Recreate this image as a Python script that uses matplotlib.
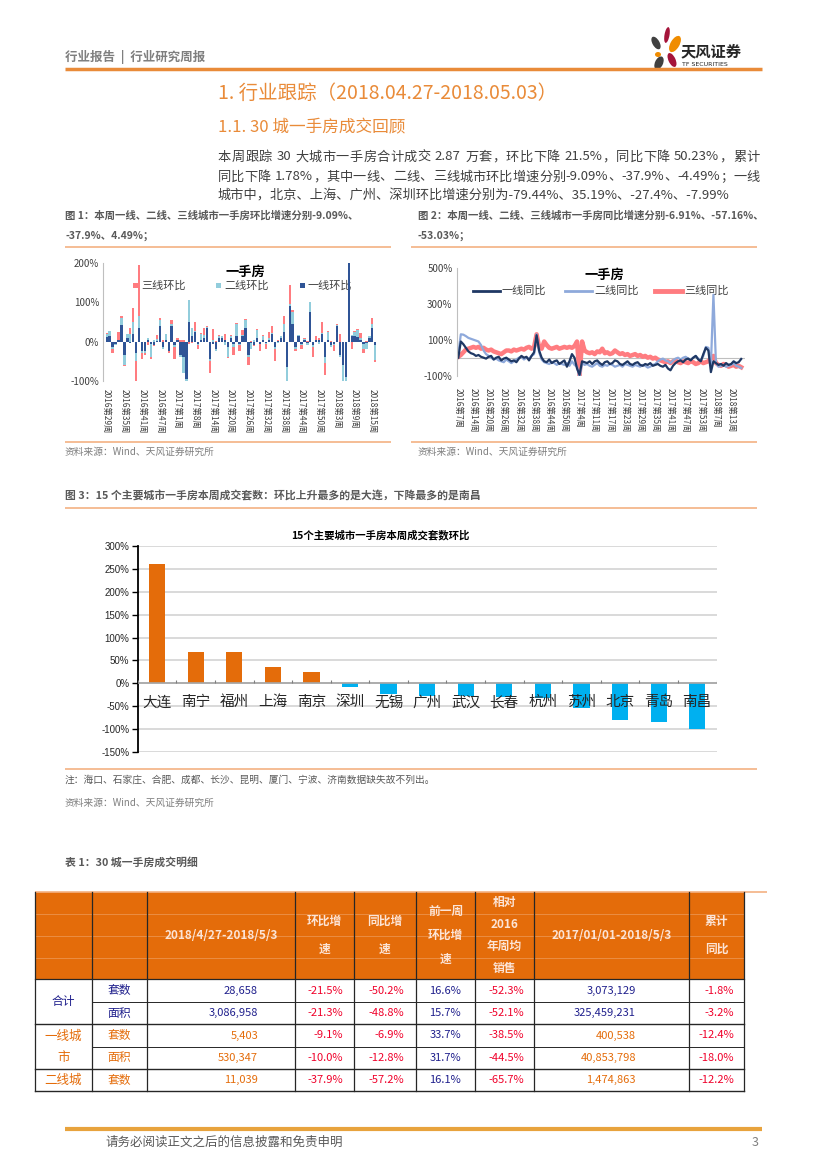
import re
import matplotlib
matplotlib.use('Agg')
import matplotlib.pyplot as plt
from matplotlib.patches import Rectangle, Ellipse
import numpy as np

plt.rcParams['font.family'] = ['Noto Sans CJK SC', 'DejaVu Sans']
plt.rcParams['axes.unicode_minus'] = False

# ---------------- data ----------------
# Chart 1: weekly MoM growth (%), stacked
wk1_labels = ['2016第29周', '2016第35周', '2016第41周', '2016第47周', '2017第1周', '2017第8周',
              '2017第14周', '2017第20周', '2017第26周', '2017第32周', '2017第38周', '2017第44周',
              '2017第50周', '2018第3周', '2018第9周', '2018第15周']
tier1_mom = [12, 15, -15, -5, 3, 42, -35, 10, -3, 20,
             -30, 35, -25, -25, 3, -5, -10, 2, 40, -15,
             5, -25, 40, -10, 3, -35, -40, -95, 50, 15,
             25, -5, 3, 10, 35, -45, -5, -20, 10, 10,
             3, -15, 10, -5, 15, -5, 15, 35, -35, -3,
             -8, 10, -5, 3, -3, 5, 20, -15, 2, 10,
             25, -65, 90, 45, -15, 15, -5, 5, -3, 75,
             -10, 3, 3, 20, -40, 3, -10, -5, 40, -35,
             -60, -90, 200, 15, 15, 12, 3, -5, -3, 10,
             35, -9.09]
tier2_mom = [8, 13, -5, -3, 2, 18, -25, 10, 20, 30,
             -20, 30, -5, -3, 7, -35, 3, 5, 15, -3,
             15, 0, 5, -5, 2, -5, -40, -10, 55, 20,
             3, -3, 17, 8, 2, -5, 3, -5, 5, 3,
             -10, -25, 3, -10, 30, -3, 3, 20, -5, -15,
             3, 20, -2, 12, -2, 3, 3, -5, -3, 3,
             20, -35, 5, 30, -3, 3, -3, 2, -7, 25,
             -5, 2, -5, 3, -15, 22, -3, -3, 2, -5,
             -40, -12, 0, 3, 10, 18, 7, -15, -17, 3,
             10, -37.9]
tier3_mom = [3, 0, -10, -2, 20, 5, -3, 0, 15, 35,
             -55, 130, -15, -7, -10, -5, -2, 10, 5, 5,
             0, -5, 10, -30, 5, 3, 5, 0, -5, -3,
             22, -12, 2, 17, 3, -30, 30, 2, 3, -2,
             17, -3, 5, -20, 2, -17, 12, 3, -20, 2,
             -4, 3, -18, 2, -15, 17, 17, -30, 3, 2,
             20, -3, 50, 5, -5, -2, -10, 3, 2, 2,
             -25, 10, 7, 27, -30, 2, 2, -17, 3, 20,
             -3, 0, 0, -20, 2, 2, 12, -10, 2, 2,
             15, -4.49]

# Chart 2: weekly YoY growth (%)
wk2_labels = ['2016第7周', '2016第14周', '2016第20周', '2016第26周', '2016第32周', '2016第38周',
              '2016第44周', '2016第50周', '2017第4周', '2017第11周', '2017第17周', '2017第23周',
              '2017第29周', '2017第35周', '2017第41周', '2017第47周', '2017第53周', '2018第7周',
              '2018第13周']
tier1_yoy = [0, 90, 75, 55, 35, 25, 20, 10, 15, 5,
             0, -5, 5, 10, -10, 0, 5, -15, -5, 0,
             -10, -20, -15, -25, -5, 10, 0, 5, -15, 10,
             30, 125, 40, 0, -20, -25, -10, -30, -20, -15,
             -35, -25, -15, -50, -20, 20, 0, -60, -95, -20,
             -25, -30, -20, -35, -20, -15, -30, -40, -25, -20,
             -35, -30, -15, -20, -35, -40, -30, -20, -35, -40,
             -30, -25, -40, -45, -35, -40, -30, -45, -40, -35,
             -45, -50, -40, -60, -70, -45, -30, -20, -15, -25,
             -10, -5, -15, 0, 10, -10, -20, 20, 55, 40,
             -80, -20, -30, -40, -35, -45, -30, -40, -35, -20,
             -30, -25, -6.91]
tier2_yoy = [20, 130, 128, 120, 110, 105, 100, 95, 90, 70,
             40, 20, 10, 0, -10, -5, -15, -20, -25, -10,
             -20, -30, -20, -10, 0, 5, -10, 0, -5, 10,
             20, 130, 30, -10, -25, -30, -35, -25, -30, -40,
             -30, -35, -40, -30, -45, -20, -40, -50, -110, -30,
             -40, -35, -45, -50, -40, -30, -45, -50, -40, -45,
             -35, -40, -50, -45, -40, -50, -35, -40, -45, -50,
             -40, -45, -50, -40, -45, -55, -50, -40, -35, -20,
             -10, -5, -15, -20, -30, -15, -5, 0, -10, 0,
             5, -5, -10, 0, 10, -5, -15, 10, 60, 55,
             -40, 350, -30, -50, -45, -40, -50, -45, -40, -30,
             -45, -50, -57.16]
tier3_yoy = [5, 15, 30, 45, 50, 55, 60, 55, 60, 50,
             55, 45, 40, 45, 35, 30, 25, 20, 30, 40,
             40, 35, 45, 40, 45, 50, 45, 55, 60, 50,
             60, 130, 60, 50, 90, 70, 55, 50, 55, 60,
             50, 55, 60, 55, 60, 55, 65, 90, -100, 90,
             40, 30, 25, 30, 20, 35, 30, 50, 25, 30,
             20, 25, 40, 30, 20, 25, 15, 20, 10, 15,
             20, 10, 15, 5, 10, 0, 5, -5, 0, -10,
             -15, -20, -25, -20, -30, -20, -15, -25, -30, -20,
             -25, -30, -20, -25, -35, -30, -20, -30, -25, -20,
             0, 10, -30, -40, -45, -35, -40, -50, -45, -40,
             -50, -45, -53.03]

# Chart 3: 15 cities MoM
cities = ['大连', '南宁', '福州', '上海', '南京', '深圳', '无锡', '广州', '武汉', '长春',
          '杭州', '苏州', '北京', '青岛', '南昌']
city_mom = [260, 68, 68, 35.19, 24, -7.99, -23, -27.4, -28, -30, -31, -54, -79.44, -83, -100]

# Table
tbl_header = ['', '', '2018/4/27-2018/5/3', '环比增\n速', '同比增\n速', '前一周\n环比增\n速',
              '相对\n2016\n年周均\n销售', '2017/01/01-2018/5/3', '累计\n同比']
tbl_groups = ['合计', '一线城\n市', '二线城']
tbl_items = ['套数', '面积', '套数', '面积', '套数']
tbl_week = ['28,658', '3,086,958', '5,403', '530,347', '11,039']
tbl_mom = ['-21.5%', '-21.3%', '-9.1%', '-10.0%', '-37.9%']
tbl_yoy = ['-50.2%', '-48.8%', '-6.9%', '-12.8%', '-57.2%']
tbl_prev = ['16.6%', '15.7%', '33.7%', '31.7%', '16.1%']
tbl_vs2016 = ['-52.3%', '-52.1%', '-38.5%', '-44.5%', '-65.7%']
tbl_cum = ['3,073,129', '325,459,231', '400,538', '40,853,798', '1,474,863']
tbl_cumyoy = ['-1.8%', '-3.2%', '-12.4%', '-18.0%', '-12.2%']

# ---------------- figure ----------------
W, H = 827, 1169
fig = plt.figure(figsize=(8.27, 11.69), dpi=100)
renderer = fig.canvas.get_renderer()


def box(x0, y0, x1, y1):
    return [x0 / W, 1 - y1 / H, (x1 - x0) / W, (y1 - y0) / H]


bg = fig.add_axes([0, 0, 1, 1])
bg.set_xlim(0, W)
bg.set_ylim(H, 0)
bg.axis('off')

ORANGE = '#E98B39'
LORANGE = '#F4B183'
GREY = '#595959'


def hline(y, x0, x1, c=LORANGE, lw=1.2):
    bg.plot([x0, x1], [y, y], color=c, lw=lw, solid_capstyle='butt')


def justify(x0, x1, y, s, fs, color):
    toks = re.findall(r'[A-Za-z0-9.%\-]+| |.', s)
    arts, ws = [], []
    for tk in toks:
        if tk == ' ':
            arts.append(None)
            ws.append(fs * 100 / 72 * 0.28)
        else:
            t = bg.text(0, y, tk, fontsize=fs, color=color, va='center', ha='left')
            arts.append(t)
            ws.append(t.get_window_extent(renderer).width)
    extra = (x1 - x0) - sum(ws)
    gap = extra / (len(toks) - 1) if extra > 0 else 0
    x = x0
    for t, w in zip(arts, ws):
        if t is not None:
            t.set_x(x)
        x += w + gap


# header
bg.text(65, 57, '行业报告  |  行业研究周报', fontsize=9, color='#7F7F7F', fontweight='bold', va='center')
hline(68.5, 65, 762, c=ORANGE, lw=2.5)
petals = [(667, 35, 5, 16, 10, '#A5143A'), (656, 43, 7, 14, -30, '#404040'),
          (675, 44, 9, 18, 30, '#F08C00'), (658, 54.5, 6, 5, 0, '#F08C00'),
          (659, 63, 8, 14, 25, '#404040'), (672, 60, 7, 15, -25, '#A5143A')]
for (cx_, cy_, w, h, a, c) in petals:
    bg.add_patch(Ellipse((cx_, cy_), w, h, angle=a, color=c, lw=0))
bg.text(681, 51, '天风证券', fontsize=11, fontweight='bold', color='#262626', va='center')
bg.text(682, 64, 'TF SECURITIES', fontsize=4.5, color='#262626', va='center', family='DejaVu Sans')

# titles
bg.text(218, 93, '1. 行业跟踪（2018.04.27-2018.05.03）', fontsize=14, color=ORANGE, va='center')
bg.text(218, 128, '1.1. 30 城一手房成交回顾', fontsize=12, color=ORANGE, va='center')
PFS = 9.5
justify(218, 760, 157, '本周跟踪 30 大城市一手房合计成交 2.87 万套，环比下降 21.5%，同比下降 50.23%，累计', PFS, '#404040')
justify(218, 760, 177, '同比下降 1.78%，其中一线、二线、三线城市环比增速分别-9.09%、-37.9%、-4.49%；一线', PFS, '#404040')
bg.text(218, 196, '城市中，北京、上海、广州、深圳环比增速分别为-79.44%、35.19%、-27.4%、-7.99%',
        fontsize=PFS, color='#404040', va='center')

# captions for chart 1 & 2
bg.text(65, 215, '图 1：本周一线、二线、三线城市一手房环比增速分别-9.09%、', fontsize=7.5, color=GREY,
        fontweight='bold', va='center')
bg.text(65, 235.5, '-37.9%、4.49%；', fontsize=7.5, color=GREY, fontweight='bold', va='center')
bg.text(418, 215, '图 2：本周一线、二线、三线城市一手房同比增速分别-6.91%、-57.16%、', fontsize=7.5,
        color=GREY, fontweight='bold', va='center')
bg.text(418, 235.5, '-53.03%；', fontsize=7.5, color=GREY, fontweight='bold', va='center')
hline(246.5, 65, 391)
hline(246.5, 411, 757)
hline(442, 65, 391)
hline(442, 411, 757)
bg.text(65, 452, '资料来源：Wind、天风证券研究所', fontsize=7, color='#7F7F7F', va='center')
bg.text(418, 452, '资料来源：Wind、天风证券研究所', fontsize=7, color='#7F7F7F', va='center')

# ---------------- chart 1 ----------------
ax1 = fig.add_axes(box(103.3, 263.3, 380, 380.7))
n1 = len(tier1_mom)
x1 = np.arange(n1)
pos = np.zeros(n1)
neg = np.zeros(n1)
for vals, c in [(tier1_mom, '#2F5496'), (tier2_mom, '#92CDDC'), (tier3_mom, '#FF7C80')]:
    v = np.array(vals, float)
    bottom = np.where(v >= 0, pos, neg)
    ax1.bar(x1, v, bottom=bottom, width=0.78, color=c, linewidth=0)
    pos += np.where(v >= 0, v, 0)
    neg += np.where(v < 0, v, 0)
ax1.set_ylim(-100, 200)
ax1.set_xlim(-1.15, 92.6)
ax1.set_yticks([-100, 0, 100, 200])
ax1.set_yticklabels(['-100%', '0%', '100%', '200%'], fontsize=7, color='#404040')
ax1.set_xticks(np.arange(0, n1, 6)[:len(wk1_labels)])
ax1.set_xticklabels(wk1_labels, rotation=-90, fontsize=6, color='#404040', va='top')
ax1.tick_params(length=0, pad=3)
ax1.tick_params(axis='x', pad=6)
for s in ['top', 'right', 'bottom']:
    ax1.spines[s].set_visible(False)
ax1.spines['left'].set_color('#BFBFBF')
ax1.patch.set_alpha(0)

bg.text(245, 272, '一手房', fontsize=9.5, fontweight='bold', ha='center', va='center', color='black')
for (sx, lab, c) in [(133, '三线环比', '#FF7C80'), (216, '二线环比', '#92CDDC'), (300, '一线环比', '#2F5496')]:
    bg.add_patch(Rectangle((sx, 283), 5, 5, color=c, lw=0))
    bg.text(sx + 8, 286, lab, fontsize=8, va='center', color='#404040')

# ---------------- chart 2 ----------------
ax2 = fig.add_axes(box(456.7, 267.7, 745, 375.7))
x2 = np.arange(len(tier1_yoy))
ax2.axhline(0, color='#BFBFBF', lw=0.8)
ax2.plot(x2, tier3_yoy, color='#FF7C80', lw=3.2)
ax2.plot(x2, tier2_yoy, color='#8EA9DB', lw=1.6)
ax2.plot(x2, tier1_yoy, color='#1F3864', lw=1.6)
ax2.set_ylim(-100, 500)
ax2.set_xlim(-0.63, 113.5)
ax2.set_yticks([-100, 100, 300, 500])
ax2.set_yticklabels(['-100%', '100%', '300%', '500%'], fontsize=7, color='#404040')
ax2.set_xticks(np.arange(0, len(x2), 6)[:len(wk2_labels)])
ax2.set_xticklabels(wk2_labels, rotation=-90, fontsize=6, color='#404040', va='top')
ax2.tick_params(length=0, pad=3)
ax2.tick_params(axis='x', pad=9)
for s in ['top', 'right', 'bottom']:
    ax2.spines[s].set_visible(False)
ax2.spines['left'].set_color('#BFBFBF')
ax2.patch.set_alpha(0)

bg.text(604, 275, '一手房', fontsize=9.5, fontweight='bold', ha='center', va='center', color='black')
for (lx, lab, c, lw) in [(473, '一线同比', '#1F3864', 2), (565, '二线同比', '#8EA9DB', 2),
                         (655, '三线同比', '#FF7C80', 3.5)]:
    bg.plot([lx, lx + 27], [290.5, 290.5], color=c, lw=lw)
    bg.text(lx + 29, 290.5, lab, fontsize=8, va='center', color='#404040')

# ---------------- chart 3 ----------------
bg.text(65, 496, '图 3：15 个主要城市一手房本周成交套数：环比上升最多的是大连，下降最多的是南昌',
        fontsize=7.8, color=GREY, fontweight='bold', va='center')
hline(508, 65, 757)
bg.text(380, 535, '15个主要城市一手房本周成交套数环比', fontsize=7.5, fontweight='bold',
        ha='center', va='center', color='black')
ax3 = fig.add_axes(box(137.8, 545.7, 716.5, 752.3))
cols3 = ['#E46C0A' if v >= 0 else '#00B0F0' for v in city_mom]
ax3.bar(np.arange(len(cities)), city_mom, width=0.42, color=cols3, linewidth=0, zorder=3)
ax3.set_ylim(-150, 300)
ax3.set_xlim(-0.5, len(cities) - 0.5)
yt = list(range(-150, 301, 50))
ax3.set_yticks(yt)
ax3.set_yticklabels([f'{v}%' for v in yt], fontsize=7, color='#262626', family='Liberation Sans')
ax3.yaxis.grid(True, color='#D9D9D9', lw=1.4, zorder=0)
ax3.set_axisbelow(True)
ax3.axhline(0, color='#A6A6A6', lw=1.2, zorder=4)
ax3.vlines(np.arange(len(cities) + 1) - 0.5, 0, 7, color='#7F7F7F', lw=0.8, zorder=4)
ax3.set_xticks([])
ax3.tick_params(axis='y', length=4, width=1, direction='out', pad=2)
for s in ['top', 'right', 'bottom']:
    ax3.spines[s].set_visible(False)
ax3.spines['left'].set_color('black')
ax3.spines['left'].set_linewidth(1.3)
for i, c in enumerate(cities):
    ax3.text(i, -41, c, ha='center', va='center', fontsize=10.5, color='#262626', zorder=5)

hline(769, 65, 757)
bg.text(65, 780, '注：海口、石家庄、合肥、成都、长沙、昆明、厦门、宁波、济南数据缺失故不列出。',
        fontsize=7, color=GREY, va='center')
bg.text(65, 803, '资料来源：Wind、天风证券研究所', fontsize=7, color='#7F7F7F', va='center')

# ---------------- table ----------------
bg.text(65, 862, '表 1：30 城一手房成交明细', fontsize=7.8, color=GREY, fontweight='bold', va='center')
cx = [35, 91.6, 147.3, 295, 353.8, 416.3, 475, 534, 689, 744]
hy0, hy1 = 891.7, 979
ry = [979, 1002, 1024, 1047, 1069, 1091]
HDR = '#E46C0A'
NAVY = '#1F1F8C'
RED = '#F0002A'
bg.add_patch(Rectangle((cx[0], hy0), cx[-1] - cx[0], hy1 - hy0, color=HDR, lw=0))
for yy in [914, 936, 958]:
    bg.plot([cx[0], cx[-1]], [yy, yy], color='#EE9A5A', lw=0.5)
hline(hy0, cx[0], 767, c=LORANGE, lw=1.2)
for xx in cx:
    bg.plot([xx, xx], [hy0, ry[-1]], color='#262626', lw=0.9)
bg.plot([cx[0], cx[-1]], [hy1, hy1], color='#262626', lw=0.9)
for yy, full in [(1002, False), (1024, True), (1047, False), (1069, True), (1091, True)]:
    bg.plot([cx[0] if full else cx[1], cx[-1]], [yy, yy], color='#262626', lw=1.0 if full else 0.7)

hdr_text = '#FCE4D6'
steps = {1: 0, 2: 28, 3: 23.5, 4: 22}
for j, t in enumerate(tbl_header):
    if not t:
        continue
    lines = t.split('\n')
    n = len(lines)
    mid = (hy0 + hy1) / 2
    for k, ln in enumerate(lines):
        yy = mid + (k - (n - 1) / 2) * steps[n]
        bg.text((cx[j] + cx[j + 1]) / 2, yy, ln, fontsize=8.5, fontweight='bold', color=hdr_text,
                ha='center', va='center')

# group labels
bg.text((cx[0] + cx[1]) / 2, 1002, tbl_groups[0], fontsize=8.5, color=NAVY, ha='center', va='center')
g1 = tbl_groups[1].split('\n')
bg.text((cx[0] + cx[1]) / 2, 1036, g1[0], fontsize=9, color='#E46C0A', ha='center', va='center')
bg.text((cx[0] + cx[1]) / 2, 1058, g1[1], fontsize=9, color='#E46C0A', ha='center', va='center')
bg.text((cx[0] + cx[1]) / 2, 1080, tbl_groups[2], fontsize=9, color='#E46C0A', ha='center', va='center')

row_main = [NAVY, NAVY, '#E46C0A', '#E46C0A', '#E46C0A']
for r in range(5):
    yc = (ry[r] + ry[r + 1]) / 2
    mc = row_main[r]
    bg.text((cx[1] + cx[2]) / 2, yc, tbl_items[r], fontsize=8.5, color=mc, ha='center', va='center')
    bg.text(258, yc, tbl_week[r], fontsize=8, color=mc, ha='right', va='center')
    bg.text(343, yc, tbl_mom[r], fontsize=8, color=RED, ha='right', va='center')
    bg.text(404, yc, tbl_yoy[r], fontsize=8, color=RED, ha='right', va='center')
    bg.text(461, yc, tbl_prev[r], fontsize=8, color=NAVY, ha='right', va='center')
    bg.text(524, yc, tbl_vs2016[r], fontsize=8, color=RED, ha='right', va='center')
    bg.text(636, yc, tbl_cum[r], fontsize=8, color=mc, ha='right', va='center')
    bg.text(734, yc, tbl_cumyoy[r], fontsize=8, color=RED, ha='right', va='center')

# footer
hline(1129, 65, 762, c='#E8A33D', lw=3)
bg.text(105, 1142, '请务必阅读正文之后的信息披露和免责申明', fontsize=9, color=GREY, va='center')
bg.text(752, 1142, '3', fontsize=9, color='#7F7F7F', va='center')

fig.savefig('out.png', dpi=100)
